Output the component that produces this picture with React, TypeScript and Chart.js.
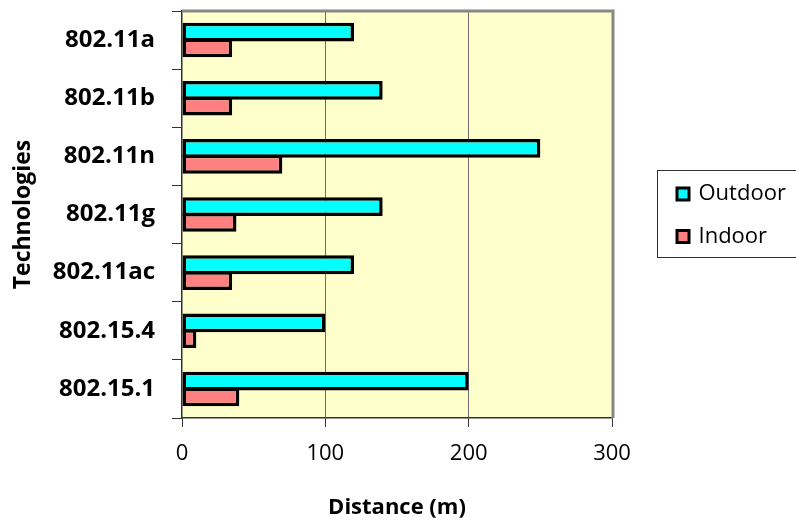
import { useEffect, useRef } from "react";
import { Chart, registerables } from "chart.js";

Chart.register(...registerables);

// Range of each wireless technology, in metres
const technologies = ["802.11a", "802.11b", "802.11n", "802.11g", "802.11ac", "802.15.4", "802.15.1"];
const outdoorRange = [120, 140, 250, 140, 120, 100, 200];
const indoorRange = [35, 35, 70, 38, 35, 10, 40];
const distanceTicks = [0, 100, 200, 300];

const seriesNames = ["Outdoor", "Indoor"];
const seriesColors = ["#00FFFF", "#FF8080"];

const FONT = "'Open Sans', 'Noto Sans', sans-serif";

// Pale yellow plot area with a grey frame along the top and right edges
const plotFrame = {
  id: "plotFrame",
  beforeDraw(chart: any) {
    const { ctx, chartArea: a } = chart;
    ctx.save();
    ctx.fillStyle = "#FFFFCC";
    ctx.fillRect(a.left, a.top, a.right - a.left, a.bottom - a.top);
    ctx.restore();
  },
  beforeDatasetsDraw(chart: any) {
    const { ctx, chartArea: a } = chart;
    ctx.save();
    ctx.strokeStyle = "#878787";
    ctx.lineWidth = 3;
    ctx.beginPath();
    ctx.moveTo(a.left, a.top);
    ctx.lineTo(a.right + 1, a.top);
    ctx.lineTo(a.right + 1, a.bottom);
    ctx.stroke();
    ctx.restore();
  },
};

// Boxed legend to the right of the plot
const sideLegend = {
  id: "sideLegend",
  afterDraw(chart: any) {
    const { ctx, chartArea: a } = chart;
    const boxX = a.right + 45.5;
    const boxY = 170.5;
    ctx.save();
    ctx.strokeStyle = "#333";
    ctx.lineWidth = 1;
    ctx.strokeRect(boxX, boxY, 200, 87);
    ctx.font = `22px ${FONT}`;
    ctx.textBaseline = "middle";
    ctx.textAlign = "left";
    seriesNames.forEach((name, i) => {
      const cy = boxY + 23.5 + i * 42.5;
      const mx = boxX + 18;
      ctx.fillStyle = "#000";
      ctx.fillRect(mx, cy - 7.5, 15, 15);
      ctx.fillStyle = seriesColors[i];
      ctx.fillRect(mx + 3, cy - 4.5, 9, 9);
      ctx.fillStyle = "#000";
      ctx.fillText(name, mx + 23, cy);
    });
    ctx.restore();
  },
};

export default function App() {
  const canvasRef = useRef<HTMLCanvasElement | null>(null);

  useEffect(() => {
    document.body.style.margin = "0";
    const canvas = canvasRef.current;
    if (!canvas) return;

    const barStyle = {
      borderColor: "#000000",
      borderWidth: 3.5,
      borderSkipped: false,
      categoryPercentage: 0.5435,
      barPercentage: 1.19,
    };

    const chart = new Chart(canvas, {
      type: "bar",
      data: {
        labels: technologies,
        datasets: [
          { label: seriesNames[0], data: outdoorRange, backgroundColor: seriesColors[0], ...barStyle },
          { label: seriesNames[1], data: indoorRange, backgroundColor: seriesColors[1], ...barStyle },
        ],
      },
      options: {
        indexAxis: "y",
        responsive: false,
        animation: false,
        layout: { padding: { top: 11, right: 184, bottom: 0, left: 0 } },
        plugins: {
          legend: { display: false },
          tooltip: { enabled: false },
        },
        scales: {
          x: {
            min: distanceTicks[0],
            max: distanceTicks[distanceTicks.length - 1],
            afterBuildTicks: (scale: any) => {
              scale.ticks = distanceTicks.map((v) => ({ value: v }));
            },
            ticks: {
              color: "#000",
              font: { family: FONT, size: 22 },
              padding: 14,
            },
            grid: {
              color: (c: any) =>
                c.tick && c.tick.value > distanceTicks[0] && c.tick.value < distanceTicks[distanceTicks.length - 1]
                  ? "#6e6e6e"
                  : "rgba(0,0,0,0)",
              tickColor: "#333",
              tickLength: 9,
              lineWidth: 1,
            },
            border: { display: true, color: "#333", width: 1.5 },
            title: {
              display: true,
              text: "Distance (m)",
              color: "#000",
              font: { family: FONT, size: 22, weight: "bold" },
              padding: { top: 0, bottom: 2 },
            },
            afterFit: (scale: any) => {
              scale.height = 105;
              scale.paddingLeft = 0;
              scale.paddingRight = 0;
            },
          },
          y: {
            ticks: {
              color: "#000",
              font: { family: FONT, size: 24, weight: "bold" },
              padding: 17,
            },
            grid: {
              drawOnChartArea: false,
              offset: true,
              tickColor: "#333",
              tickLength: 10,
            },
            border: { display: true, color: "#333", width: 1.5 },
            title: {
              display: true,
              text: "Technologies",
              color: "#000",
              font: { family: FONT, size: 23, weight: "bold" },
              padding: { top: 10, bottom: 0 },
            },
            afterFit: (scale: any) => {
              scale.width = 182;
              scale.paddingTop = 0;
              scale.paddingBottom = 0;
            },
          },
        },
      } as any,
      plugins: [plotFrame, sideLegend],
    });

    return () => chart.destroy();
  }, []);

  return <canvas ref={canvasRef} width={796} height={523} style={{ display: "block" }} />;
}
